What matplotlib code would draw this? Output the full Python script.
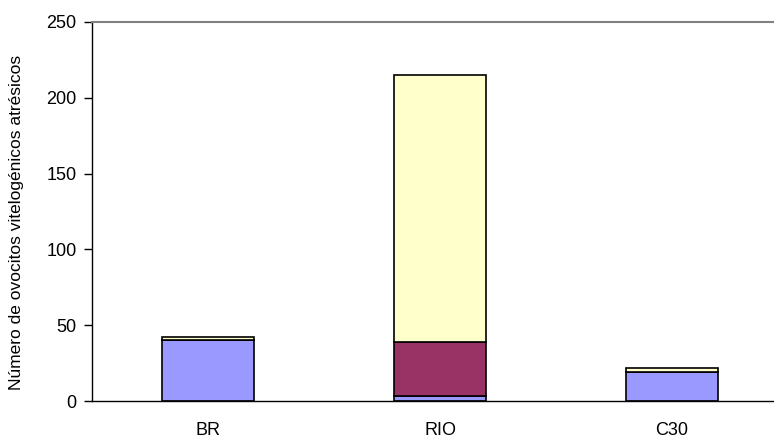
"""
Stacked bars: atretic vitellogenic oocytes per site.
"""

import matplotlib
matplotlib.use("Agg")
import matplotlib.pyplot as plt
import numpy as np

sites = ["BR", "RIO", "C30"]
stage_a = [40, 3, 19]      # lower segment (blue)
stage_b = [0, 36, 0]       # middle segment (maroon)
stage_c = [2, 176, 3]      # upper segment (yellow)

colors = ["#9999FF", "#993366", "#FFFFCC"]

plt.rcParams["font.family"] = ["Liberation Sans", "DejaVu Sans"]

fig = plt.figure(figsize=(7.74, 4.44), dpi=100)
ax = fig.add_axes([92 / 774, 1 - 401 / 444, (788 - 92) / 774, (401 - 22) / 444])

x = np.arange(len(sites))
bottom = np.zeros(len(sites))
for vals, color in zip([stage_a, stage_b, stage_c], colors):
    vals = np.array(vals, dtype=float)
    ax.bar(x, vals, width=0.4, bottom=bottom, color=color,
           edgecolor="black", linewidth=1.2)
    bottom += vals

ax.set_xlim(-0.5, 2.5)
ax.set_ylim(0, 250)
ax.set_yticks(np.arange(0, 251, 50))
ax.set_xticks(x)
ax.set_xticklabels(sites, fontsize=13)
ax.tick_params(axis="x", length=0, pad=15)
ax.tick_params(axis="y", direction="out", length=6, width=1, labelsize=13, pad=5)

ax.set_ylabel("Número de ovocitos vitelogénicos atrésicos", fontsize=12.5)
ax.yaxis.set_label_coords(-0.098, 0.472)

ax.spines["right"].set_visible(False)
ax.spines["top"].set_color("#808080")
ax.spines["top"].set_linewidth(1.5)
ax.spines["left"].set_linewidth(1)
ax.spines["bottom"].set_linewidth(1)

fig.savefig("out.png", dpi=100)
